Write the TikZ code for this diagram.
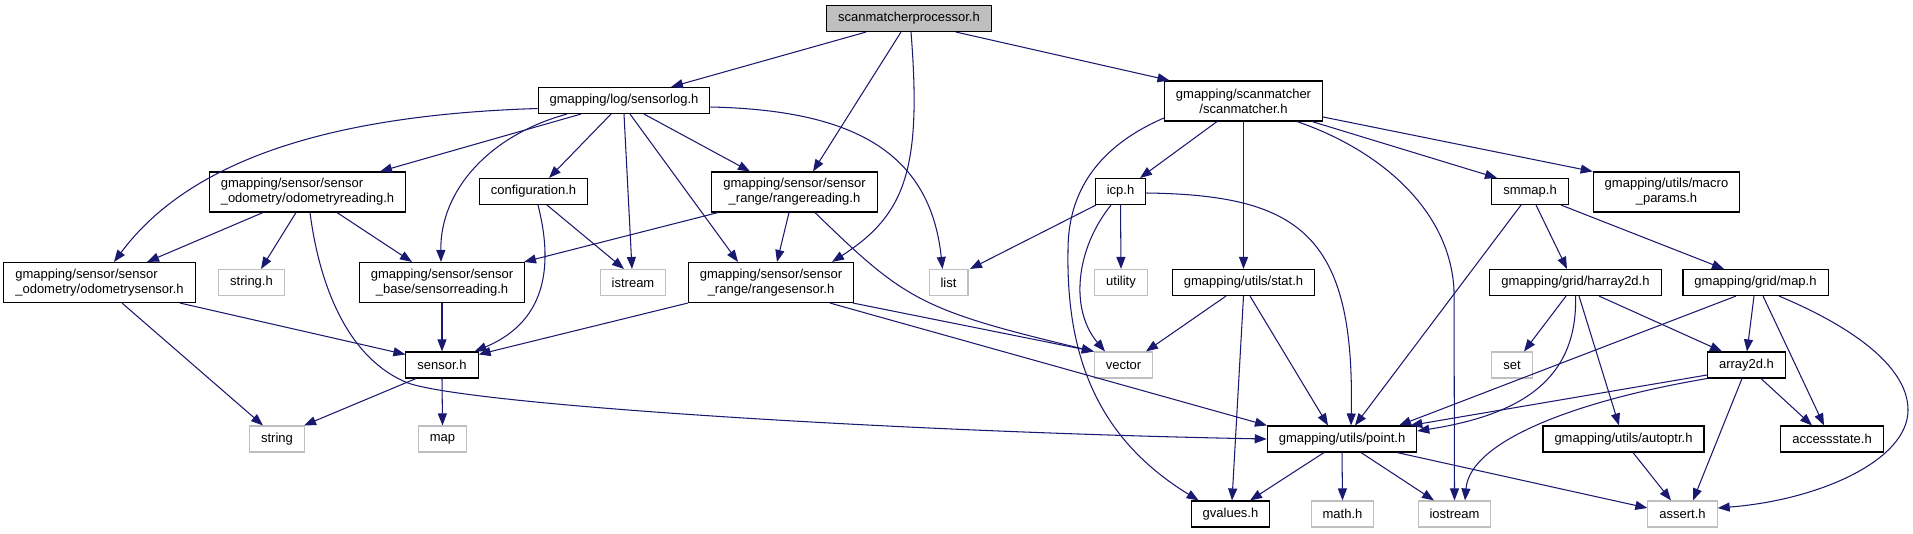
\documentclass[tikz,border=0pt]{standalone}
\usepackage{fontspec}
\setmainfont{Liberation Sans}
\usetikzlibrary{arrows.meta}
\definecolor{incedge}{RGB}{25,25,112}
\definecolor{incgray}{RGB}{191,191,191}

\begin{document}
\begin{tikzpicture}[
    x=1pt, y=-1pt,
    font=\fontsize{13}{15}\selectfont,
    hdr/.style={draw=black, line width=1.1pt, fill=white, inner xsep=11.5pt, inner ysep=0pt, minimum height=26pt},
    sys/.style={hdr, draw=incgray},
    root/.style={hdr, fill=incgray},
    two/.style={hdr, minimum height=40pt, align=center},
    twol/.style={two, align=left},
    arr/.style={-{Triangle[length=12pt,width=9pt]}, line width=1.05pt, draw=incedge}
  ]
    \fill[white] (0,0) rectangle (1913,533);
    \useasboundingbox (0,0) rectangle (1913,533);

    % rows, top to bottom
    \node[root] (smp) at (909,18.5) {scanmatcherprocessor.h};

    \node[hdr] (slog) at (624,100.5) {gmapping/log/sensorlog.h};
    \node[two] (smatch) at (1243.5,101) {gmapping/scanmatcher\\/scanmatcher.h};

    \node[twol] (odoread) at (307.5,192) {gmapping/sensor/sensor\\\_odometry/odometryreading.h};
    \node[hdr] (config) at (533.5,191.5) {configuration.h};
    \node[two] (rngread) at (794.5,192) {gmapping/sensor/sensor\\\_range/rangereading.h};
    \node[hdr] (icp) at (1120.5,191.5) {icp.h};
    \node[hdr] (smmap) at (1530,191.5) {smmap.h};
    \node[two] (macro) at (1666.5,192) {gmapping/utils/macro\\\_params.h};

    \node[twol] (odosens) at (99.5,282.5) {gmapping/sensor/sensor\\\_odometry/odometrysensor.h};
    \node[sys] (strh) at (251.5,282.5) {string.h};
    \node[two] (sensread) at (442,282.5) {gmapping/sensor/sensor\\\_base/sensorreading.h};
    \node[sys] (istrm) at (633,282.5) {istream};
    \node[two] (rngsens) at (771,282.5) {gmapping/sensor/sensor\\\_range/rangesensor.h};
    \node[sys] (lst) at (948.5,282.5) {list};
    \node[sys] (util) at (1121,282.5) {utility};
    \node[hdr] (stat) at (1243.5,282.5) {gmapping/utils/stat.h};
    \node[hdr] (harr) at (1575.5,282.5) {gmapping/grid/harray2d.h};
    \node[hdr] (gmap) at (1755.5,282.5) {gmapping/grid/map.h};

    \node[hdr] (sens) at (442,365) {sensor.h};
    \node[sys] (vect) at (1123.5,365) {vector};
    \node[sys] (sett) at (1512,365) {set};
    \node[hdr] (arr2d) at (1746.5,365) {array2d.h};

    \node[sys] (strg) at (277,439) {string};
    \node[sys] (mapp) at (442.5,439) {map};
    \node[hdr] (point) at (1342,439) {gmapping/utils/point.h};
    \node[hdr] (autop) at (1623.5,439) {gmapping/utils/autoptr.h};
    \node[hdr] (acc) at (1832,439) {accessstate.h};

    \node[hdr] (gval) at (1230.5,514) {gvalues.h};
    \node[sys] (mathh) at (1342.5,514) {math.h};
    \node[sys] (iostr) at (1454.5,514) {iostream};
    \node[sys] (asrt) at (1682.5,514) {assert.h};

    % straight includes, bottom of one box to top of the next
    \foreach \a/\da/\b/\db in {smp/-43/slog/47, smp/-8/rngread/18.5, smp/47/smatch/-74,
        slog/-43/odoread/72.5, slog/-13/config/15.5, slog/0/istrm/-1, slog/6/rngsens/-33,
        slog/20/rngread/-44.5, odoread/-44.5/odosens/47.5, odoread/-11.5/strh/9.5,
        odoread/29.5/sensread/-30, config/13.5/istrm/-9, rngread/-5.5/rngsens/6,
        rngread/-76.5/sensread/82, smatch/-26.5/icp/19.5, smatch/0/stat/0, smatch/68.5/smmap/-33,
        icp/-24.5/lst/21.5, icp/0/util/0, smmap/-9/point/13, smmap/6/harr/-8.5,
        smmap/31/gmap/-31.5, sensread/0/sens/0, odosens/22.5/strg/-14, sens/0/mapp/0,
        sens/-26/strg/27, rngsens/59/point/-75, rngsens/82/vect/-29.5,
        stat/-17.5/vect/22.5, stat/0/gval/1.5, stat/6.5/point/-14,
        harr/-9.5/sett/12, harr/3.5/autop/-4.5, harr/23.5/arr2d/-24.5,
        gmap/-19.5/point/57, gmap/-1.5/arr2d/0.5, gmap/7.5/acc/-8,
        arr2d/14.5/acc/-20, arr2d/-4.5/asrt/10.5,
        point/-18/gval/19.5, point/0/mathh/0, point/19/iostr/-20.5, autop/9.5/asrt/-11.5}
      \draw[arr] ([xshift=\da pt]\a.south) -- ([xshift=\db pt]\b.north);

    \draw[arr] (rngsens.south west) -- ([yshift=-3pt]sens.north east);
    \draw[arr] ([xshift=80.5pt]odosens.south) -- ([yshift=-3pt]sens.north west);
    \draw[arr] ([yshift=-16pt]smatch.east) -- (macro.north west);
    \draw[arr] ([yshift=-10pt]arr2d.west) -- ([xshift=-7pt]point.north east);
    \draw[arr] ([xshift=55pt]point.south) -- ([yshift=6pt]asrt.west);

    % curved includes
    \draw[arr] ([xshift=2pt]smp.south) .. controls (922,170) and (905,215) .. ([xshift=61pt]rngsens.north);
    \draw[arr] ([yshift=-8pt]slog.west) .. controls (330,115) and (190,160) .. ([xshift=14.5pt]odosens.north);
    \draw[arr] ([xshift=-57pt]slog.south) .. controls (490,135) and (440,190) .. ([xshift=-1pt]sensread.north);
    \draw[arr] ([yshift=-6.5pt]slog.east) .. controls (850,110) and (930,150) .. ([xshift=-6pt]lst.north);
    \draw[arr] ([xshift=2.5pt]odoread.south) .. controls (320,290) and (350,360) .. (408,383)
      .. controls (470,405) and (900,432) .. (point.west);
    \draw[arr] ([xshift=4.5pt]config.south) .. controls (552,260) and (550,320) .. ([xshift=-4pt]sens.north east);
    \draw[arr] ([xshift=20.5pt]rngread.south) .. controls (905,300) and (920,310) .. (vect.north west);
    \draw[arr] ([yshift=-17pt]smatch.west) .. controls (1090,150) and (1068,200) .. (1068,250)
      .. controls (1066,360) and (1100,440) .. ([xshift=8pt]gval.north west);
    \draw[arr] ([xshift=53.5pt]smatch.south) .. controls (1380,150) and (1450,210) .. (1454,290) -- (iostr.north);
    \draw[arr] ([xshift=-9.5pt]icp.south) .. controls (1075,250) and (1070,310) .. ([xshift=-18.5pt]vect.north);
    \draw[arr] ([yshift=-1.5pt]icp.east) .. controls (1300,195) and (1355,235) .. ([xshift=9pt]point.north);
    \draw[arr] (harr.south) .. controls (1578,380) and (1520,415) .. ([yshift=8pt]point.east);
    \draw[arr] ([xshift=23.5pt]gmap.south) .. controls (1860,330) and (1908,370) .. (1908,410)
      .. controls (1908,460) and (1820,500) .. ([yshift=6pt]asrt.east);
    \draw[arr] (arr2d.south west) .. controls (1580,400) and (1470,440) .. ([xshift=10.5pt]iostr.north);
  \end{tikzpicture}
\end{document}
